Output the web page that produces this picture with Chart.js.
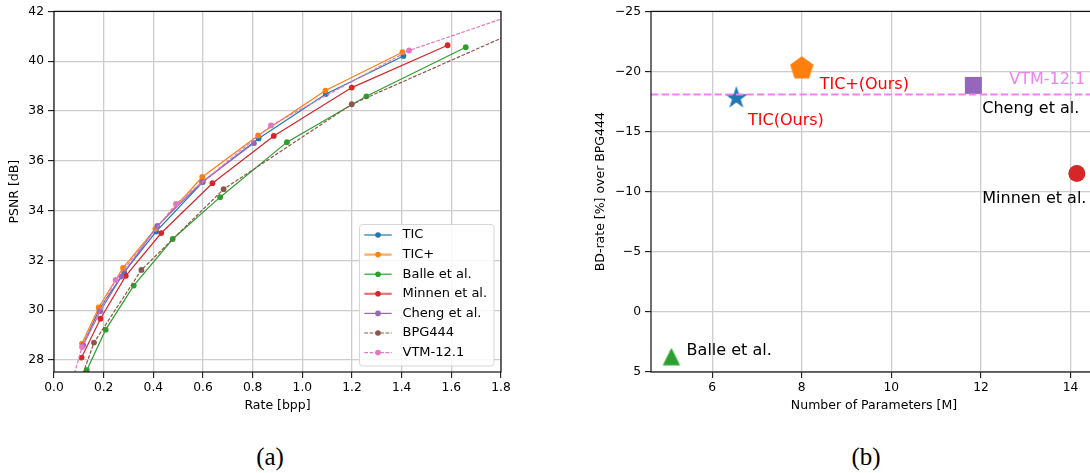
<!DOCTYPE html>
<html><head><meta charset="utf-8">
<script src="https://cdn.jsdelivr.net/npm/chart.js@4.4.1/dist/chart.umd.min.js"></script>
<style>
html,body{margin:0;padding:0;width:1090px;height:473px;overflow:hidden;background:#fff;}
#ca{position:absolute;left:0;top:0;}
#cb{position:absolute;left:560px;top:0;}
.cap{position:absolute;top:444px;line-height:25px;font-family:'Liberation Serif','DejaVu Serif',serif;font-size:25px;color:#000;transform:translateX(-50%);white-space:nowrap;}
</style></head><body>
<canvas id="ca" width="540" height="420"></canvas>
<canvas id="cb" width="560" height="420"></canvas>
<div class="cap" style="left:270px">(a)</div>
<div class="cap" style="left:866px">(b)</div>
<script>
// ---------- (a) rate-distortion data ----------
const seriesNames  = ['TIC','TIC+','Balle et al.','Minnen et al.','Cheng et al.','BPG444','VTM-12.1'];
const seriesColors = ['#1f77b4','#ff7f0e','#2ca02c','#d62728','#9467bd','#8c564b','#e377c2'];
const seriesDashed = [false,false,false,false,false,true,true];

const ticRate    = [0.116, 0.183, 0.282, 0.411, 0.599, 0.824, 1.095, 1.407];
const ticPsnr    = [28.58, 30.05, 31.52, 33.16, 35.15, 36.90, 38.68, 40.21];
const ticPlusRate = [0.113, 0.180, 0.278, 0.408, 0.597, 0.822, 1.093, 1.403];
const ticPlusPsnr = [28.66, 30.11, 31.70, 33.27, 35.35, 37.02, 38.82, 40.36];
const balleRate  = [0.132, 0.208, 0.321, 0.478, 0.669, 0.938, 1.258, 1.658];
const ballePsnr  = [27.59, 29.22, 30.99, 32.86, 34.54, 36.75, 38.59, 40.56];
const minnenRate = [0.111, 0.187, 0.289, 0.432, 0.638, 0.885, 1.199, 1.585];
const minnenPsnr = [28.10, 29.66, 31.38, 33.10, 35.10, 37.00, 38.94, 40.64];
const chengRate  = [0.118, 0.186, 0.271, 0.416, 0.596, 0.805];
const chengPsnr  = [28.60, 29.96, 31.35, 33.39, 35.15, 36.71];
const bpgRate    = [0.095, 0.161, 0.352, 0.683, 1.199, 2.000];
const bpgPsnr    = [26.85, 28.70, 31.62, 34.86, 38.27, 41.80];
const vtmRate    = [0.070, 0.113, 0.248, 0.491, 0.874, 1.430, 2.100];
const vtmPsnr    = [27.05, 28.52, 31.22, 34.27, 37.42, 40.43, 42.71];

const rateTicks = [0.0,0.2,0.4,0.6,0.8,1.0,1.2,1.4,1.6,1.8];
const psnrTicks = [28,30,32,34,36,38,40,42];

// ---------- (b) BD-rate vs parameters data ----------
const modelNames   = ['TIC(Ours)','TIC+(Ours)','Cheng et al.','Minnen et al.','Balle et al.'];
const modelParams  = [6.54, 8.00, 11.83, 14.14, 5.09];
const modelBdRate  = [-17.80, -20.25, -18.84, -11.52, 3.72];
const modelColors  = ['#1f77b4','#ff7f0e','#9467bd','#d62728','#2ca02c'];
const vtmBdRate    = -18.09;
const paramTicks   = [6,8,10,12,14];
const bdTicks      = [-25,-20,-15,-10,-5,0,5];

Chart.defaults.font.family = "'DejaVu Sans', sans-serif";
Chart.defaults.font.size = 12.3;
Chart.defaults.color = '#000';
Chart.defaults.animation = false;

const allRates = [ticRate, ticPlusRate, balleRate, minnenRate, chengRate, bpgRate, vtmRate];
const allPsnr  = [ticPsnr, ticPlusPsnr, ballePsnr, minnenPsnr, chengPsnr, bpgPsnr, vtmPsnr];

const gridCommon = {color:'#cccccc', lineWidth:1.3, tickColor:'#000', tickLength:6, tickWidth:1, drawTicks:true};

const framePlugin = {
  id:'frame',
  afterDraw(chart){
    const {ctx, chartArea:a} = chart;
    ctx.save();
    ctx.strokeStyle = '#111'; ctx.lineWidth = 1.2;
    ctx.strokeRect(a.left, a.top, a.right-a.left, a.bottom-a.top);
    ctx.restore();
  }
};

const legendPlugin = {
  id:'rdLegend',
  afterDraw(chart){
    const {ctx, chartArea:a} = chart;
    const w = 134.5, h = 141.5;
    const x0 = a.right - 7 - w, y0 = a.bottom - 6 - h;
    ctx.save();
    ctx.beginPath();
    if (ctx.roundRect) ctx.roundRect(x0, y0, w, h, 3); else ctx.rect(x0, y0, w, h);
    ctx.fillStyle = 'rgba(255,255,255,0.85)'; ctx.fill();
    ctx.strokeStyle = '#d6d6d6'; ctx.lineWidth = 1; ctx.stroke();
    ctx.font = "13px 'DejaVu Sans'"; ctx.textBaseline = 'middle'; ctx.textAlign = 'left';
    seriesNames.forEach((name, i) => {
      const cy = y0 + 10.5 + i * 19.6;
      const lx0 = x0 + 4.8, lx1 = x0 + 32.2;
      const thick = (i === 1 || i === 3);
      ctx.globalAlpha = thick ? 0.65 : 1;
      ctx.strokeStyle = seriesColors[i]; ctx.lineWidth = thick ? 2.2 : 1.2;
      ctx.setLineDash(seriesDashed[i] ? [3.7,1.6] : []);
      ctx.beginPath(); ctx.moveTo(lx0, cy); ctx.lineTo(lx1, cy); ctx.stroke();
      ctx.setLineDash([]); ctx.globalAlpha = 1;
      ctx.fillStyle = seriesColors[i];
      ctx.beginPath(); ctx.arc((lx0+lx1)/2, cy, 2.8, 0, 2*Math.PI); ctx.fill();
      ctx.fillStyle = '#000';
      ctx.fillText(name, x0 + 43, cy);
    });
    ctx.restore();
  }
};

new Chart(document.getElementById('ca'), {
  type:'line',
  data:{
    datasets: seriesNames.map((name, i) => ({
      label: name,
      data: allRates[i].map((r, k) => ({x:r, y:allPsnr[i][k]})),
      borderColor: seriesColors[i],
      backgroundColor: seriesColors[i],
      pointBackgroundColor: seriesColors[i],
      pointBorderWidth: 0,
      pointRadius: 2.9,
      borderWidth: 1.2,
      borderDash: seriesDashed[i] ? [3.7,1.6] : [],
      tension: 0,
      fill: false,
      clip: 0,
      order: seriesNames.length - i
    }))
  },
  options:{
    responsive:false,
    layout:{padding:{top:9.7, right:39, left:0, bottom:0}},
    plugins:{legend:{display:false}, tooltip:{enabled:false}},
    scales:{
      x:{
        type:'linear', min:0, max:1.8,
        afterBuildTicks:(s)=>{ s.ticks = rateTicks.map(v=>({value:v})); },
        afterFit:(s)=>{ s.height = 48; },
        ticks:{autoSkip:false, maxRotation:0, padding:2, callback:(v)=>Number(v).toFixed(1)},
        grid:gridCommon, border:{display:false},
        title:{display:true, text:'Rate [bpp]', font:{size:12.5}, padding:{top:0,bottom:6.5}}
      },
      y:{
        type:'linear', min:27.52, max:42,
        afterBuildTicks:(s)=>{ s.ticks = psnrTicks.map(v=>({value:v})); },
        afterFit:(s)=>{ s.width = 54; },
        ticks:{autoSkip:false, padding:4, callback:(v)=>String(v)},
        grid:gridCommon, border:{display:false},
        title:{display:true, text:'PSNR [dB]', font:{size:12.5}, padding:{top:7.5,bottom:0}}
      }
    }
  },
  plugins:[framePlugin, legendPlugin]
});

// ---------- marker images for (b) ----------
function makeCanvas(size){ const c=document.createElement('canvas'); c.width=size; c.height=size; return c; }
function polyStar(n, R, r, color){
  const s = Math.ceil(2*R+2), c = makeCanvas(s), g = c.getContext('2d'), m = s/2;
  g.fillStyle = color; g.beginPath();
  const pts = r ? n*2 : n;
  for (let k=0;k<pts;k++){
    const ang = -Math.PI/2 + k*2*Math.PI/pts;
    const rad = r ? (k%2===0 ? R : r) : R;
    const px = m + rad*Math.cos(ang), py = m + rad*Math.sin(ang);
    k===0 ? g.moveTo(px,py) : g.lineTo(px,py);
  }
  g.closePath(); g.fill(); return c;
}
function triUp(half, color){
  const s = Math.ceil(2*half+2), c = makeCanvas(s), g = c.getContext('2d'), m = s/2;
  g.fillStyle = color; g.beginPath();
  g.moveTo(m, m-half); g.lineTo(m+half, m+half); g.lineTo(m-half, m+half); g.closePath(); g.fill();
  return c;
}
function square(side, color){
  const s = Math.ceil(side+2), c = makeCanvas(s), g = c.getContext('2d'), m = s/2;
  g.fillStyle = color; g.fillRect(m-side/2, m-side/2, side, side); return c;
}
const markerStyles = [
  polyStar(5, 12, 12*0.382, modelColors[0]),
  polyStar(5, 12.3, 0, modelColors[1]),
  square(17, modelColors[2]),
  'circle',
  triUp(8.7, modelColors[4])
];

const annotations = [
  {text:'TIC(Ours)',     x:6.80,  y:-15.88, color:'#ff0000'},
  {text:'TIC+(Ours)',    x:8.40,  y:-18.92, color:'#ff0000'},
  {text:'Cheng et al.',  x:12.03, y:-16.93, color:'#000000'},
  {text:'Minnen et al.', x:12.03, y:-9.44,  color:'#000000'},
  {text:'Balle et al.',  x:5.43,  y:3.25,   color:'#000000'},
  {text:'VTM-12.1',      x:12.63, y:-19.28, color:'#ee82ee'}
];

const bPlugin = {
  id:'bExtras',
  afterDatasetsDraw(chart){
    const {ctx, chartArea:a, scales:{x, y}} = chart;
    ctx.save();
    const yy = y.getPixelForValue(vtmBdRate);
    ctx.strokeStyle = '#ee82ee'; ctx.lineWidth = 2; ctx.setLineDash([7.4,3.2]);
    ctx.beginPath(); ctx.moveTo(a.left, yy); ctx.lineTo(a.right, yy); ctx.stroke();
    ctx.setLineDash([]);
    ctx.font = "16px 'DejaVu Sans'"; ctx.textBaseline = 'middle'; ctx.textAlign = 'left';
    annotations.forEach(t => {
      ctx.fillStyle = t.color;
      ctx.fillText(t.text, x.getPixelForValue(t.x), y.getPixelForValue(t.y));
    });
    ctx.restore();
  }
};

new Chart(document.getElementById('cb'), {
  type:'scatter',
  data:{
    datasets:[{
      label:'models',
      data: modelParams.map((p,i)=>({x:p, y:modelBdRate[i]})),
      pointStyle: markerStyles,
      pointRadius: [10,10,10,8.5,10],
      pointBackgroundColor: modelColors,
      pointBorderWidth: 0,
      backgroundColor: modelColors
    }]
  },
  options:{
    responsive:false,
    layout:{padding:{top:10, right:23, left:0, bottom:0}},
    plugins:{legend:{display:false}, tooltip:{enabled:false}},
    scales:{
      x:{
        type:'linear', min:4.635, max:14.59,
        afterBuildTicks:(s)=>{ s.ticks = paramTicks.map(v=>({value:v})); },
        afterFit:(s)=>{ s.height = 48; },
        ticks:{autoSkip:false, maxRotation:0, padding:2, callback:(v)=>String(v)},
        grid:gridCommon, border:{display:false},
        title:{display:true, text:'Number of Parameters [M]', font:{size:12.5}, padding:{top:0,bottom:6.5}}
      },
      y:{
        type:'linear', min:-25, max:5, reverse:true,
        afterBuildTicks:(s)=>{ s.ticks = bdTicks.map(v=>({value:v})); },
        afterFit:(s)=>{ s.width = 91; },
        ticks:{autoSkip:false, padding:4, callback:(v)=> v<0 ? '\u2212'+Math.abs(v) : String(v)},
        grid:gridCommon, border:{display:false},
        title:{display:true, text:'BD-rate [%] over BPG444', font:{size:12.5}, padding:{top:33.5,bottom:0}}
      }
    }
  },
  plugins:[framePlugin, bPlugin]
});
</script>
</body></html>
